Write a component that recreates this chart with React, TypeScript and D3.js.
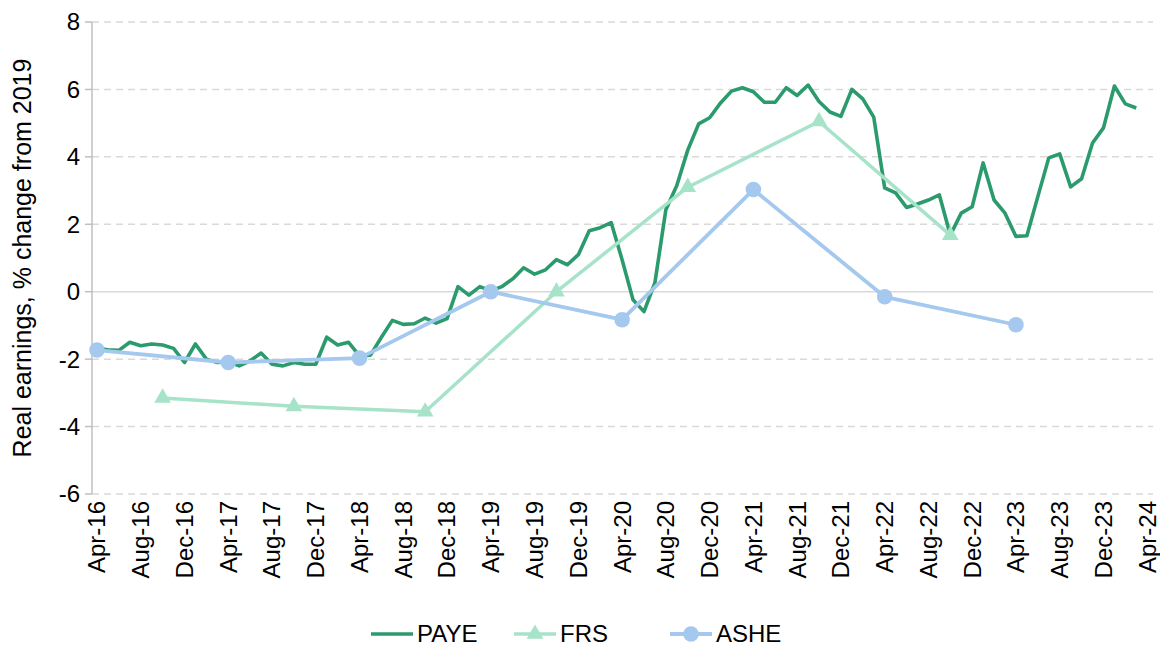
import React, { useEffect, useRef } from 'react';
import * as d3 from 'd3';

// monthly categories run Apr-16 .. Apr-24
const startMonth = new Date(2016, 3, 1);
const endMonth = new Date(2024, 4, 1);

const tickLabels = [
  "Apr-16", "Aug-16", "Dec-16", "Apr-17", "Aug-17", "Dec-17", "Apr-18", "Aug-18", "Dec-18",
  "Apr-19", "Aug-19", "Dec-19", "Apr-20", "Aug-20", "Dec-20", "Apr-21", "Aug-21", "Dec-21",
  "Apr-22", "Aug-22", "Dec-22", "Apr-23", "Aug-23", "Dec-23", "Apr-24"
];

const yTicks = [8, 6, 4, 2, 0, -2, -4, -6];

// PAYE, monthly from Apr-16
const payeValues = [
  -1.68, -1.72, -1.74, -1.5, -1.6, -1.55, -1.58, -1.68, -2.1, -1.55, -2.0, -2.1,
  -2.08, -2.2, -2.05, -1.82, -2.15, -2.2, -2.1, -2.15, -2.15, -1.35, -1.58, -1.5,
  -1.9, -1.88, -1.35, -0.85, -0.97, -0.95, -0.78, -0.93, -0.8, 0.15, -0.1, 0.15,
  0.02, 0.15, 0.38, 0.71, 0.52, 0.65, 0.95, 0.8, 1.1, 1.81, 1.9, 2.05,
  0.95, -0.24, -0.59, 0.27, 2.43, 3.15, 4.2, 4.98, 5.16, 5.6, 5.95, 6.05,
  5.93, 5.62, 5.62, 6.05, 5.82, 6.13, 5.64, 5.33, 5.2, 6.0, 5.72, 5.18,
  3.08, 2.93, 2.5, 2.6, 2.72, 2.87, 1.68, 2.33, 2.52, 3.82, 2.72, 2.33,
  1.64, 1.66, 2.82, 3.97, 4.09, 3.11, 3.35, 4.41, 4.86, 6.1, 5.57, 5.45
];

// FRS, yearly (October)
const frsMonths = ["Oct-16", "Oct-17", "Oct-18", "Oct-19", "Oct-20", "Oct-21", "Oct-22"];
const frsValues = [-3.15, -3.4, -3.56, 0.0, 3.1, 5.05, 1.68];

// ASHE, yearly (April)
const asheMonths = ["Apr-16", "Apr-17", "Apr-18", "Apr-19", "Apr-20", "Apr-21", "Apr-22", "Apr-23"];
const asheValues = [-1.73, -2.1, -1.97, 0.0, -0.83, 3.03, -0.15, -0.98];

const colors = { paye: "#2b9a6d", frs: "#a6e3c8", ashe: "#a4c8ee" };

export default function App() {
  const svgRef = useRef<SVGSVGElement>(null);

  useEffect(() => {
    document.body.style.margin = "0";
    if (!svgRef.current) return;
    const width = 1160;
    const height = 648;
    const font = "'Liberation Sans', Arial, sans-serif";
    const fmt = d3.timeFormat("%b-%y");

    const months = d3.timeMonth.range(startMonth, endMonth).map(fmt);

    const svg = d3.select(svgRef.current)
      .attr("width", width)
      .attr("height", height)
      .style("font-family", font);
    svg.selectAll("*").remove();

    const x = d3.scalePoint<string>().domain(months).range([91.5, 1152.7]).padding(0.5);
    const y = d3.scaleLinear().domain([-6, 8]).range([494, 22]);

    // gridlines
    svg.append("g")
      .selectAll("line")
      .data(yTicks)
      .enter().append("line")
      .attr("x1", 92).attr("x2", 1153)
      .attr("y1", d => y(d)).attr("y2", d => y(d))
      .attr("stroke", "#d9d9d9")
      .attr("stroke-width", 1.5)
      .attr("stroke-dasharray", d => d === 0 ? null : "7,5");

    // y axis
    svg.append("line")
      .attr("x1", 92).attr("x2", 92)
      .attr("y1", y(8)).attr("y2", y(-6))
      .attr("stroke", "#bfbfbf").attr("stroke-width", 1.5);
    svg.append("g")
      .selectAll("line")
      .data(yTicks)
      .enter().append("line")
      .attr("x1", 85).attr("x2", 92)
      .attr("y1", d => y(d)).attr("y2", d => y(d))
      .attr("stroke", "#bfbfbf").attr("stroke-width", 1.5);
    svg.append("g")
      .selectAll("text")
      .data(yTicks)
      .enter().append("text")
      .attr("x", 80)
      .attr("y", d => y(d))
      .attr("dy", "0.35em")
      .attr("text-anchor", "end")
      .style("font-size", "24px")
      .attr("fill", "#000")
      .text(d => d);

    svg.append("text")
      .attr("transform", `translate(31,${(y(8) + y(-6)) / 2}) rotate(-90)`)
      .attr("text-anchor", "middle")
      .style("font-size", "25px")
      .text("Real earnings, % change from 2019");

    // x tick labels
    svg.append("g")
      .selectAll("text")
      .data(tickLabels)
      .enter().append("text")
      .attr("transform", d => `translate(${x(d)},501) rotate(-90)`)
      .attr("text-anchor", "end")
      .attr("dy", "0.35em")
      .style("font-size", "24px")
      .text(d => d);

    const line = d3.line<[string, number]>()
      .x(d => x(d[0]) as number)
      .y(d => y(d[1]));

    const payeData: [string, number][] = payeValues.map((v, i) => [months[i], v]);
    const frsData: [string, number][] = frsValues.map((v, i) => [frsMonths[i], v]);
    const asheData: [string, number][] = asheValues.map((v, i) => [asheMonths[i], v]);

    svg.append("path")
      .attr("d", line(payeData))
      .attr("fill", "none")
      .attr("stroke", colors.paye)
      .attr("stroke-width", 3.6)
      .attr("stroke-linejoin", "round");

    svg.append("path")
      .attr("d", line(frsData))
      .attr("fill", "none")
      .attr("stroke", colors.frs)
      .attr("stroke-width", 3.5)
      .attr("stroke-linejoin", "round");

    const tri = d3.symbol().type(d3.symbolTriangle).size(120);
    svg.append("g")
      .selectAll("path")
      .data(frsData)
      .enter().append("path")
      .attr("d", tri)
      .attr("transform", d => `translate(${x(d[0])},${y(d[1])})`)
      .attr("fill", colors.frs);

    svg.append("path")
      .attr("d", line(asheData))
      .attr("fill", "none")
      .attr("stroke", colors.ashe)
      .attr("stroke-width", 3.8)
      .attr("stroke-linejoin", "round");

    svg.append("g")
      .selectAll("circle")
      .data(asheData)
      .enter().append("circle")
      .attr("cx", d => x(d[0]) as number)
      .attr("cy", d => y(d[1]))
      .attr("r", 7.8)
      .attr("fill", colors.ashe);

    // legend
    const legendY = 634;
    const legend = [
      { name: "PAYE", color: colors.paye, x0: 371, marker: "none" },
      { name: "FRS", color: colors.frs, x0: 514, marker: "triangle" },
      { name: "ASHE", color: colors.ashe, x0: 670, marker: "circle" }
    ];
    const lg = svg.append("g")
      .selectAll("g")
      .data(legend)
      .enter().append("g")
      .attr("transform", d => `translate(${d.x0},${legendY})`);
    lg.append("line")
      .attr("x1", 0).attr("x2", 42)
      .attr("stroke", d => d.color)
      .attr("stroke-width", d => d.name === "ASHE" ? 3.8 : 3.6);
    lg.filter(d => d.marker === "triangle")
      .append("path")
      .attr("d", tri)
      .attr("transform", "translate(21,0)")
      .attr("fill", d => d.color);
    lg.filter(d => d.marker === "circle")
      .append("circle")
      .attr("cx", 21)
      .attr("r", 7.8)
      .attr("fill", d => d.color);
    lg.append("text")
      .attr("x", 46)
      .attr("dy", "0.35em")
      .style("font-size", "24px")
      .text(d => d.name);
  }, []);

  return <svg ref={svgRef} style={{ display: "block" }}></svg>;
}
